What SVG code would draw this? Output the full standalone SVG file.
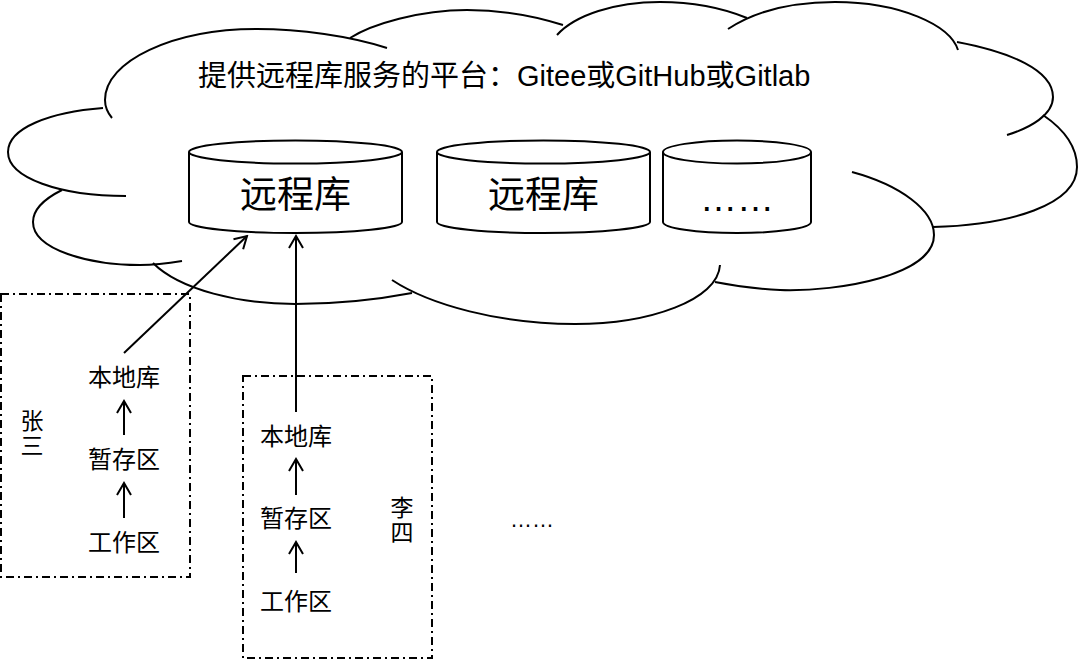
<svg xmlns="http://www.w3.org/2000/svg" width="1079" height="661" viewBox="0 0 1079 661">
<defs>
<style>
.ln{fill:none;stroke:#000;stroke-width:2}
.cyl{fill:#fff;stroke:#000;stroke-width:2}
.box{fill:none;stroke:#000;stroke-width:2;stroke-dasharray:8 4 2 4}
.t{font-family:"Liberation Sans","Noto Sans CJK SC",sans-serif;fill:#000}
.c{text-anchor:middle}
</style>
<marker id="ah" viewBox="-14 -9 16 18" refX="0" refY="0" markerWidth="16" markerHeight="18" orient="auto" markerUnits="userSpaceOnUse"><path d="M-12,-7 L0,0 L-12,7" fill="none" stroke="#000" stroke-width="2"/></marker>
</defs>
<rect width="1079" height="661" fill="#fff"/>
<g id="cloud" class="ln">
<path d="M112,118 C107,112 105,106 105,100 C105,61 173,29 257,29 C300,29 350,36 387,48"/>
<path d="M350,38 C372,24 420,10 467,10 C500,10 535,16 563,25"/>
<path d="M557,35 C575,15 615,2 660,2 C695,2 725,9 747,18"/>
<path d="M728,29 C760,8 800,2 835,2 C900,2 950,25 958,50"/>
<path d="M957,42 C1010,52 1053,70 1053,97 C1053,115 1030,128 1007,135"/>
<path d="M1043,115 C1065,130 1077,148 1077,167 C1077,205 1010,225 933,227"/>
<path d="M852,172 C900,185 934,210 934,235 C934,275 840,292 780,290 C755,289 735,286 715,282"/>
<path d="M720,265 C718,300 650,324 575,324 C500,324 430,305 392,280"/>
<path d="M412,293 C370,301 330,304 295,304 C240,304 180,290 153,263"/>
<path d="M62,190 C42,200 33,210 33,222 C33,250 90,265 140,265 C155,265 170,263 182,261"/>
<path d="M103,108 C50,112 8,128 8,152 C8,178 60,196 126,196"/>
<text class="t" x="198" y="86" font-size="29" fill="#000" stroke="none">提供远程库服务的平台：Gitee或GitHub或Gitlab</text>
</g>
<g id="remote-1">
<path class="cyl" d="M189,152 L189,222 A106.5,11 0 0 0 402,222 L402,152"/>
<ellipse class="cyl" cx="295.5" cy="152" rx="106.5" ry="11.5"/>
<text class="t c" x="295.5" y="208" font-size="37">远程库</text>
</g>
<g id="remote-2">
<path class="cyl" d="M437,152 L437,222 A106.5,11 0 0 0 650,222 L650,152"/>
<ellipse class="cyl" cx="543.5" cy="152" rx="106.5" ry="11.5"/>
<text class="t c" x="543.5" y="208" font-size="37">远程库</text>
</g>
<g id="remote-3">
<path class="cyl" d="M663,152 L663,222 A74,11 0 0 0 811,222 L811,152"/>
<ellipse class="cyl" cx="737" cy="152" rx="74" ry="11.5"/>
<text class="t c" x="737" y="211" font-size="37">……</text>
</g>
<g id="zhangsan">
<rect class="box" x="1" y="294" width="189" height="283"/>
<text class="t" x="32" y="428.8" font-size="23" text-anchor="middle">张</text>
<text class="t" x="32" y="453.8" font-size="23" text-anchor="middle">三</text>
<text class="t c" x="124" y="385.8" font-size="24">本地库</text>
<text class="t c" x="124" y="467.8" font-size="24">暂存区</text>
<text class="t c" x="124" y="550.6" font-size="24">工作区</text>
</g>
<g id="lisi">
<rect class="box" x="243" y="376" width="189" height="282"/>
<text class="t" x="402" y="515.5" font-size="23" text-anchor="middle">李</text>
<text class="t" x="402" y="540.5" font-size="23" text-anchor="middle">四</text>
<text class="t c" x="296" y="444.8" font-size="24">本地库</text>
<text class="t c" x="296" y="526.8" font-size="24">暂存区</text>
<text class="t c" x="296" y="609.8" font-size="24">工作区</text>
</g>
<g id="more">
<text class="t c" x="532" y="527" font-size="22">……</text>
</g>
<g id="connectors" class="ln">
<line x1="124" y1="353" x2="247" y2="236" marker-end="url(#ah)"/>
<line x1="296" y1="412" x2="296" y2="236" marker-end="url(#ah)"/>
<line x1="124" y1="435" x2="124" y2="401" marker-end="url(#ah)"/>
<line x1="124" y1="518" x2="124" y2="483" marker-end="url(#ah)"/>
<line x1="296" y1="495" x2="296" y2="459" marker-end="url(#ah)"/>
<line x1="296" y1="573" x2="296" y2="542" marker-end="url(#ah)"/>
</g>
</svg>
